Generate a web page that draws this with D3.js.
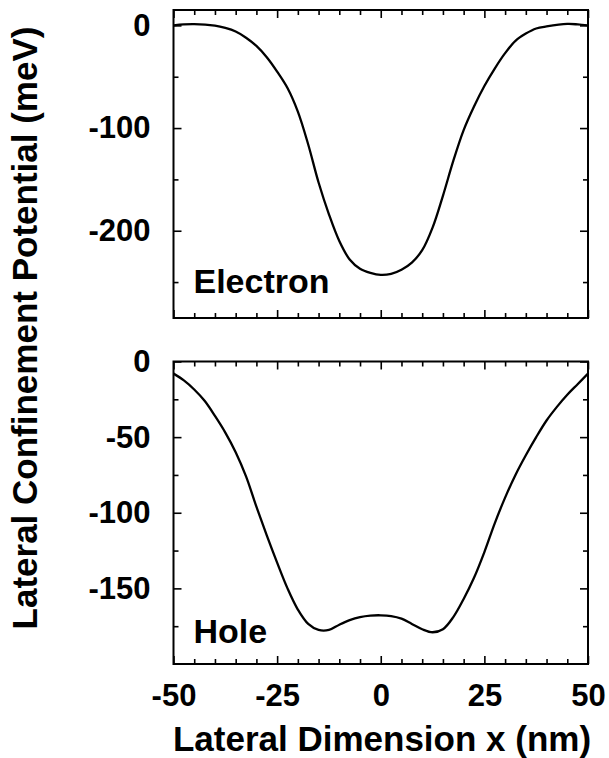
<!DOCTYPE html>
<html>
<head>
<meta charset="utf-8">
<script src="https://cdn.jsdelivr.net/npm/d3@7/dist/d3.min.js"></script>
<style>
  html, body { margin: 0; padding: 0; background: #fff; }
  svg { display: block; }
  text { font-family: "Liberation Sans", Arial, Helvetica, sans-serif; font-weight: bold; fill: #000; }
</style>
</head>
<body>
<svg id="chart" width="609" height="758"></svg>
<script>
// Lateral position (nm) of each sample
const electronX = [-50, -47.5, -45, -40, -37.5, -35, -32.5, -30, -27.5, -25, -22.5, -20, -17.5, -15, -12.5, -10,
                   -7.5, -5, -2.5, 0, 2.5, 5, 7.5, 10, 12.5, 15, 17.5, 20, 22.5, 25, 27.5, 30, 32.5, 35, 37.5,
                   40, 45, 47.5, 50];
// Electron confinement potential (meV)
const electronV = [0, 1, 1.3, -0.3, -2.5, -6, -12, -20, -31, -45, -61, -84, -116, -153, -184, -210,
                   -228, -237, -241, -243, -242, -238, -231, -219, -197, -166, -132, -102, -79, -59, -42, -27,
                   -15, -8, -3, -1, 1.4, 1, 0];

const holeX = [-50, -47.5, -45, -42.5, -40, -37.5, -35, -32.5, -30, -27.5, -25, -22.5, -20, -17.5, -15, -12.5, -10,
               -7.5, -5, -2.5, 0, 2.5, 5, 7.5, 10, 12.5, 15, 17.5, 20, 22.5, 25, 27.5, 30, 32.5, 35, 37.5, 40,
               42.5, 45, 47.5, 50];
// Hole confinement potential (meV)
const holeV = [-8, -12.5, -18.5, -26, -36, -47, -60, -76, -96, -115, -133, -150, -164, -173.5, -177.5, -177.5, -174,
               -171, -169, -168, -167.8, -168.3, -170, -173.5, -177, -179, -177, -169, -157, -143, -126, -107,
               -90, -75, -62, -50, -39, -30, -22, -15, -8];

// Axis ticks and labels
const xMajorTicks = [-50, -25, 0, 25, 50];
const xMinorTicks = [-45, -40, -35, -30, -20, -15, -10, -5, 5, 10, 15, 20, 30, 35, 40, 45];
const electronMajorTicks = [0, -100, -200];
const electronMinorTicks = [-50, -150, -250];
const holeMajorTicks = [0, -50, -100, -150];
const holeMinorTicks = [-25, -75, -125, -175];
const panelNames = ["Electron", "Hole"];
const xTitle = "Lateral Dimension x (nm)";
const yTitle = "Lateral Confinement Potential (meV)";

const svg = d3.select("#chart");

const x = d3.scaleLinear().domain([-50, 50]).range([173.5, 588]);

const panels = [
  { name: panelNames[0], xs: electronX, vs: electronV,
    y: d3.scaleLinear().domain([15, -285]).range([10, 318]),
    major: electronMajorTicks, minor: electronMinorTicks, showX: false, labelOffset: 25 },
  { name: panelNames[1], xs: holeX, vs: holeV,
    y: d3.scaleLinear().domain([0, -200]).range([361.5, 664]),
    major: holeMajorTicks, minor: holeMinorTicks, showX: true, labelOffset: 21 }
];

const MAJOR = 8, MINOR = 5;
const plain = d => String(d);   // hyphen-minus like the printed labels

panels.forEach(p => {
  const [y0, y1] = p.y.range();
  const [x0, x1] = x.range();
  const g = svg.append("g");

  const clipId = "clip-" + p.name;
  g.append("clipPath").attr("id", clipId)
    .append("rect").attr("x", x0).attr("y", y0).attr("width", x1 - x0).attr("height", y1 - y0);

  const line = d3.line()
    .x((d, i) => x(p.xs[i]))
    .y(d => p.y(d))
    .curve(d3.curveCatmullRom.alpha(0.5));

  g.append("path")
    .datum(p.vs)
    .attr("clip-path", `url(#${clipId})`)
    .attr("d", line)
    .attr("fill", "none")
    .attr("stroke", "#000")
    .attr("stroke-width", 2.3)
    .attr("stroke-linejoin", "round");

  // inward ticks on all four sides
  const addAxis = (axis, tx, ty) => {
    const a = g.append("g").attr("transform", `translate(${tx},${ty})`).call(axis);
    a.select(".domain").remove();
    a.selectAll(".tick line").attr("stroke", "#000").attr("stroke-width", 1.6);
    a.selectAll("text").style("font-size", "31px").style("font-family", null);
    return a;
  };

  addAxis(d3.axisLeft(p.y).tickValues(p.major).tickSize(-MAJOR).tickPadding(23).tickFormat(plain), x0, 0);
  addAxis(d3.axisLeft(p.y).tickValues(p.minor).tickSize(-MINOR).tickFormat(""), x0, 0);
  addAxis(d3.axisRight(p.y).tickValues(p.major).tickSize(-MAJOR).tickFormat(""), x1, 0);
  addAxis(d3.axisRight(p.y).tickValues(p.minor).tickSize(-MINOR).tickFormat(""), x1, 0);

  addAxis(d3.axisBottom(x).tickValues(xMajorTicks).tickSize(-MAJOR).tickPadding(20)
    .tickFormat(p.showX ? plain : ""), 0, y1);
  addAxis(d3.axisBottom(x).tickValues(xMinorTicks).tickSize(-MINOR).tickFormat(""), 0, y1);
  addAxis(d3.axisTop(x).tickValues(xMajorTicks).tickSize(-MAJOR).tickFormat(""), 0, y0);
  addAxis(d3.axisTop(x).tickValues(xMinorTicks).tickSize(-MINOR).tickFormat(""), 0, y0);

  // frame
  g.append("rect")
    .attr("x", x0).attr("y", y0)
    .attr("width", x1 - x0).attr("height", y1 - y0)
    .attr("fill", "none").attr("stroke", "#000").attr("stroke-width", 2);

  // panel label
  g.append("text")
    .attr("x", x0 + 20)
    .attr("y", y1 - p.labelOffset)
    .style("font-size", "34px")
    .text(p.name);
});

// axis titles
svg.append("text")
  .attr("x", 382)
  .attr("y", 751)
  .attr("text-anchor", "middle")
  .style("font-size", "35px")
  .text(xTitle);

svg.append("text")
  .attr("transform", "translate(37,328) rotate(-90)")
  .attr("text-anchor", "middle")
  .style("font-size", "35px")
  .text(yTitle);
</script>
</body>
</html>
